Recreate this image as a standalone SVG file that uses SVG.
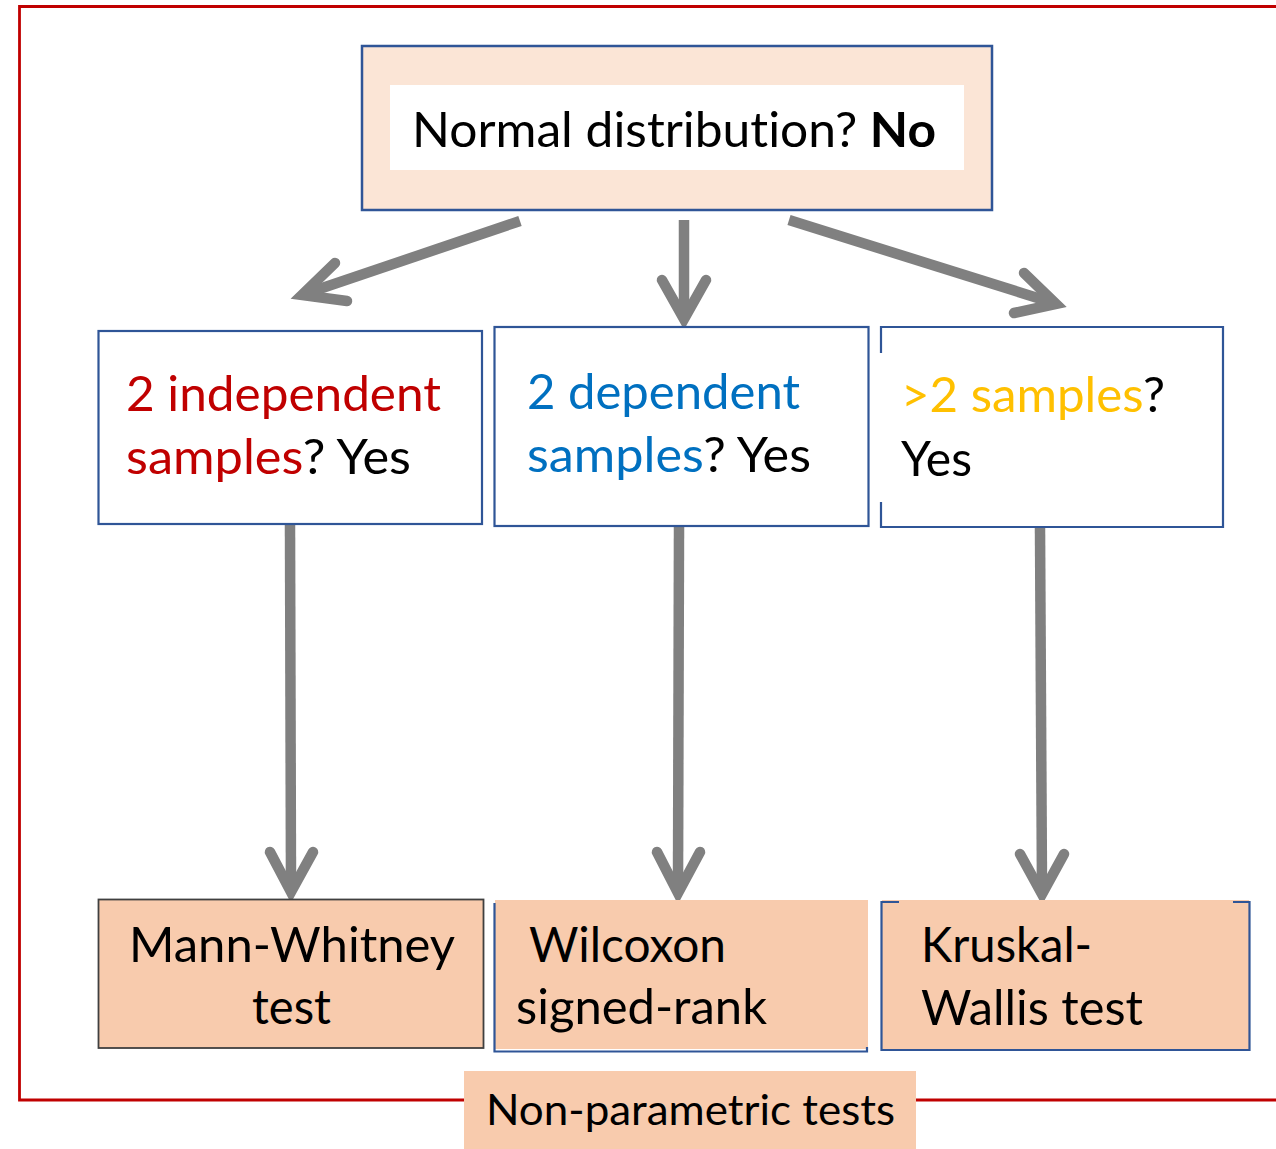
<svg xmlns="http://www.w3.org/2000/svg" width="1276" height="1149" viewBox="0 0 1276 1149">
<style>
  text { font-family: Lato, "Open Sans", "Liberation Sans", sans-serif; font-size: 48px; fill: #000; font-variant-ligatures: none; font-feature-settings: "liga" 0, "dlig" 0; }
  .red { fill: #C00000; }
  .blue { fill: #0070C0; }
  .orange { fill: #FFC000; }
  .bold { font-weight: bold; }
  .q { fill: #FFFFFF; stroke: #2F5597; stroke-width: 2.2; }
  .res { fill: #F8CBAD; }
  .edge { fill: none; stroke: #2F5597; stroke-width: 2.2; }
  .conn { fill: none; stroke: #808080; stroke-width: 10.5; stroke-linecap: round; stroke-linejoin: miter; stroke-miterlimit: 10; }
  .shaft { fill: none; stroke: #808080; stroke-width: 10.5; stroke-linecap: butt; }
</style>
<rect width="1276" height="1149" fill="#FFFFFF"/>
<g id="frame">
  <path d="M1276,6.5 H19.5 V1100 H1276" fill="none" stroke="#C00000" stroke-width="2.8"/>
</g>
<g id="connectors">
  <line class="shaft" x1="520" y1="221" x2="306" y2="293.5"/>
  <polyline class="conn" points="335,263 302,295 347,301"/>
  <line class="shaft" x1="684" y1="220" x2="684" y2="314"/>
  <polyline class="conn" points="662,280 684,319 706,280"/>
  <line class="shaft" x1="789" y1="220" x2="1052" y2="302.5"/>
  <polyline class="conn" points="1024,273 1056,304 1014,313"/>
  <line class="shaft" x1="290" y1="525" x2="291" y2="886"/>
  <polyline class="conn" points="270,852 291,892 313,852"/>
  <line class="shaft" x1="679" y1="527" x2="678" y2="888"/>
  <polyline class="conn" points="657,852 678,893 700,852"/>
  <line class="shaft" x1="1040" y1="528" x2="1042" y2="889"/>
  <polyline class="conn" points="1020,854 1042,894 1064,854"/>
</g>
<g id="node-normal">
  <rect x="362" y="46" width="630" height="164" fill="#FBE5D6" stroke="#2F5597" stroke-width="2.5"/>
  <rect x="390" y="85" width="574" height="85" fill="#FFFFFF"/>
  <text x="412" y="147" textLength="524" lengthAdjust="spacingAndGlyphs">Normal distribution? <tspan class="bold">No</tspan></text>
</g>
<g id="node-independent">
  <rect class="q" x="98.5" y="331" width="383.5" height="193"/>
  <text x="126" y="411" textLength="315" lengthAdjust="spacingAndGlyphs" class="red">2 independent</text>
  <text x="126" y="474" textLength="285" lengthAdjust="spacingAndGlyphs"><tspan class="red">samples</tspan>? Yes</text>
</g>
<g id="node-dependent">
  <rect class="q" x="494.5" y="327" width="374" height="199"/>
  <text x="527" y="409" textLength="273" lengthAdjust="spacingAndGlyphs" class="blue">2 dependent</text>
  <text x="527" y="472" textLength="284" lengthAdjust="spacingAndGlyphs"><tspan class="blue">samples</tspan>? Yes</text>
</g>
<g id="node-more">
  <rect x="881" y="327" width="342" height="200" fill="#FFFFFF"/>
  <path class="edge" d="M881,353 V327 H1223 V527 H881 V502"/>
  <text x="901" y="412" textLength="264" lengthAdjust="spacingAndGlyphs"><tspan class="orange">&gt;2 samples</tspan>?</text>
  <text x="901" y="476" textLength="71" lengthAdjust="spacingAndGlyphs">Yes</text>
</g>
<g id="node-mann">
  <rect class="res" x="98.5" y="899.5" width="385" height="148.5" stroke="#404040" stroke-width="1.8"/>
  <text x="129" y="962" textLength="326" lengthAdjust="spacingAndGlyphs">Mann-Whitney</text>
  <text x="252" y="1024" textLength="79" lengthAdjust="spacingAndGlyphs">test</text>
</g>
<g id="node-wilcoxon">
  <rect class="res" x="495" y="900" width="373" height="149"/>
  <path class="edge" d="M494.5,903 V1051.5 H867 V1047"/>
  <text x="529" y="962" textLength="197" lengthAdjust="spacingAndGlyphs">Wilcoxon</text>
  <text x="516" y="1024" textLength="251" lengthAdjust="spacingAndGlyphs">signed-rank</text>
</g>
<g id="node-kruskal">
  <rect class="res" x="882" y="900" width="367" height="149"/>
  <path class="edge" d="M899,902 H881.5 V1050 H1249.5 V902 H1233"/>
  <text x="921" y="962" textLength="171" lengthAdjust="spacingAndGlyphs">Kruskal-</text>
  <text x="921" y="1025" textLength="222" lengthAdjust="spacingAndGlyphs">Wallis test</text>
</g>
<g id="label-nonparametric">
  <rect class="res" x="464" y="1071" width="452" height="78"/>
  <text x="486" y="1125" style="font-size:43px" textLength="409" lengthAdjust="spacingAndGlyphs">Non-parametric tests</text>
</g>
</svg>
